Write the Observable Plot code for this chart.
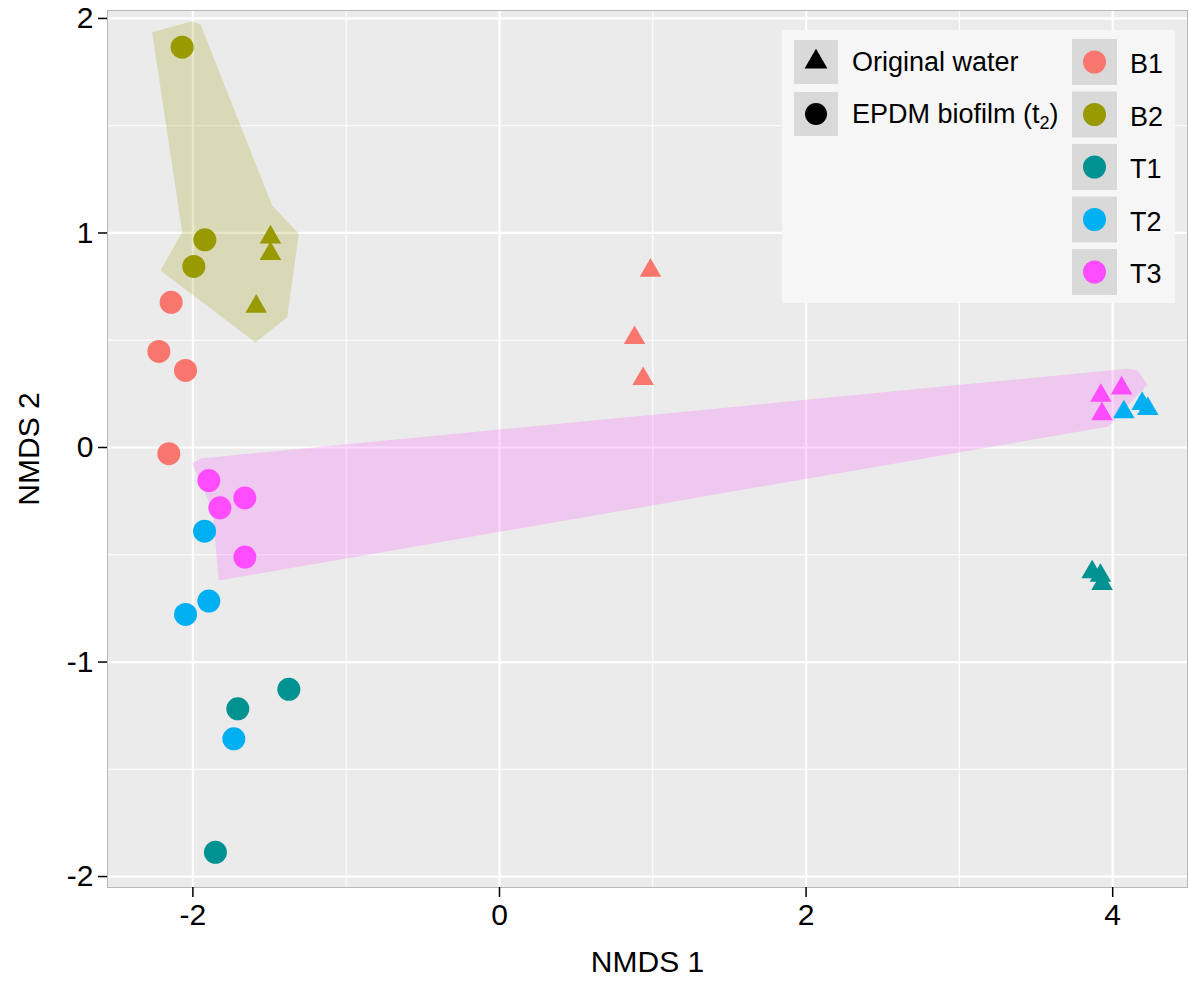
<!DOCTYPE html>
<html>
<head>
<meta charset="utf-8">
<script src="https://cdn.jsdelivr.net/npm/d3@7"></script>
<script src="https://cdn.jsdelivr.net/npm/@observablehq/plot@0.6"></script>
<style>
  body { margin: 0; background: white; }
  svg { display: block; }
</style>
</head>
<body>
<div id="chart"></div>
<script>
// ---- data ----
const groups = ["B1", "B2", "T1", "T2", "T3"];
const groupColors = ["#F8766D", "#999900", "#009191", "#00B0F3", "#FF4CFF"];
const sampleTypes = ["Original water", "EPDM biofilm (t2)"];

const sampleGroup = [
  "B1","B1","B1","B1","B1","B1","B1",
  "B2","B2","B2","B2","B2","B2",
  "T1","T1","T1","T1","T1","T1",
  "T2","T2","T2","T2","T2","T2","T2",
  "T3","T3","T3","T3","T3","T3","T3"
];
const sampleType = [
  "c","c","c","c","t","t","t",
  "c","c","c","t","t","t",
  "c","c","c","t","t","t",
  "c","c","c","c","t","t","t",
  "c","c","c","c","t","t","t"
];
const nmds1 = [
  -2.142,-2.222,-2.048,-2.157, 0.985, 0.881, 0.937,
  -2.070,-1.922,-1.994,-1.494,-1.494,-1.587,
  -1.374,-1.707,-1.853, 3.866, 3.920, 3.931,
  -1.924,-1.896,-2.048,-1.733, 4.073, 4.192, 4.229,
  -1.896,-1.661,-1.824,-1.661, 3.923, 4.058, 3.930
];
const nmds2 = [
   0.677, 0.448, 0.359,-0.029, 0.825, 0.511, 0.320,
   1.866, 0.968, 0.844, 0.980, 0.903, 0.657,
  -1.127,-1.218,-1.887,-0.581,-0.597,-0.635,
  -0.390,-0.716,-0.778,-1.358, 0.165, 0.204, 0.180,
  -0.154,-0.235,-0.281,-0.511, 0.242, 0.276, 0.156
];

// hull outlines
const hullB2x = [-2.266,-2.005,-1.950,-1.483,-1.309,-1.385,-1.592,-2.211,-2.070];
const hullB2y = [ 1.936, 1.987, 1.972, 1.128, 0.996, 0.607, 0.490, 0.825, 1.004];
const hullT3x = [-2.005,-1.950, 4.095, 4.162, 4.227, 3.973,-1.831,-1.872];
const hullT3y = [-0.075,-0.051, 0.367, 0.359, 0.294, 0.098,-0.620,-0.294];

const xMajor = [-2, 0, 2, 4];
const xMinor = [-3, -1, 1, 3];
const yMajor = [-2, -1, 0, 1, 2];
const yMinor = [-1.5, -0.5, 0.5, 1.5];

// ---- build tables ----
const points = sampleGroup.map((g, i) => ({group: g, type: sampleType[i], x: nmds1[i], y: nmds2[i]}));
const circles = points.filter(d => d.type === "c");
const triangles = points.filter(d => d.type === "t");
const hullB2 = hullB2x.map((x, i) => ({x, y: hullB2y[i]}));
const hullT3 = hullT3x.map((x, i) => ({x, y: hullT3y[i]}));
const colorOf = g => groupColors[groups.indexOf(g)];

const font = "'Liberation Sans', Arial, Helvetica, sans-serif";

const plot = Plot.plot({
  width: 1189,
  height: 987,
  marginLeft: 107,
  marginRight: 2,
  marginTop: 10,
  marginBottom: 100,
  x: {domain: [-2.557, 4.488]},
  y: {domain: [-2.051, 2.037]},
  color: {domain: groups, range: groupColors},
  style: {fontFamily: font, fontSize: "30px", color: "black", background: "white"},
  marks: [
    Plot.frame({fill: "#EBEBEB"}),
    Plot.ruleX(xMinor, {stroke: "white", strokeWidth: 1.1}),
    Plot.ruleY(yMinor, {stroke: "white", strokeWidth: 1.1}),
    Plot.ruleX(xMajor, {stroke: "white", strokeWidth: 2.2}),
    Plot.ruleY(yMajor, {stroke: "white", strokeWidth: 2.2}),
    Plot.line(hullB2, {x: "x", y: "y", fill: colorOf("B2"), fillOpacity: 0.22, stroke: "none"}),
    Plot.line(hullT3, {x: "x", y: "y", fill: colorOf("T3"), fillOpacity: 0.22, stroke: "none"}),
    Plot.dot(circles, {x: "x", y: "y", fill: "group", symbol: "circle", r: 11.5}),
    Plot.dot(triangles, {x: "x", y: "y", fill: "group", symbol: "triangle", r: 8}),
    Plot.frame({stroke: "#b8b8b8", strokeWidth: 1}),
    Plot.axisX({ticks: xMajor, tickSize: 10, tickPadding: 6, tickFormat: d => String(d), label: null, fontSize: 30, strokeWidth: 1.5}),
    Plot.axisY({ticks: yMajor, tickSize: 9, tickPadding: 5, tickFormat: d => String(d), label: null, fontSize: 30, strokeWidth: 1.5}),
    Plot.text(["NMDS 1"], {frameAnchor: "bottom", dy: 84, text: d => d, fontSize: 30, textAnchor: "middle"}),
    Plot.text(["NMDS 2"], {frameAnchor: "left", dx: -78, rotate: -90, text: d => d, fontSize: 30, textAnchor: "middle"})
  ]
});

document.getElementById("chart").appendChild(plot);

// ---- legend inside the panel ----
const svg = d3.select(plot);
const lg = svg.append("g").attr("font-family", font).attr("font-size", 27)
  .attr("fill", "black").attr("text-anchor", "start");
lg.append("rect").attr("x", 782).attr("y", 30).attr("width", 393).attr("height", 273)
  .attr("fill", "#F6F6F6").attr("opacity", 0.92);

const shapeKeys = [
  {label: sampleTypes[0], sym: d3.symbolTriangle, size: Math.PI * 8.5 * 8.5},
  {label: sampleTypes[1], sym: d3.symbolCircle, size: Math.PI * 11 * 11}
];
shapeKeys.forEach((k, i) => {
  const y0 = 40 + i * 52;
  lg.append("rect").attr("x", 794).attr("y", y0).attr("width", 44).attr("height", 44).attr("fill", "#D9D9D9");
  lg.append("path").attr("d", d3.symbol(k.sym, k.size)()).attr("transform", `translate(816,${y0 + 22})`).attr("fill", "black");
  const t = lg.append("text").attr("x", 852).attr("y", y0 + 31).attr("text-anchor", "start");
  if (i === 0) {
    t.text(k.label);
  } else {
    t.append("tspan").text("EPDM biofilm (t");
    t.append("tspan").attr("font-size", 18).attr("dy", 6).text("2");
    t.append("tspan").attr("dy", -6).text(")");
  }
});

groups.forEach((g, i) => {
  const y0 = 39 + i * 52.5;
  lg.append("rect").attr("x", 1072).attr("y", y0).attr("width", 45).attr("height", 46).attr("fill", "#D9D9D9");
  lg.append("circle").attr("cx", 1094.5).attr("cy", y0 + 23).attr("r", 11.5).attr("fill", groupColors[i]);
  lg.append("text").attr("x", 1130).attr("y", y0 + 34).attr("text-anchor", "start").text(g);
});
</script>
</body>
</html>
